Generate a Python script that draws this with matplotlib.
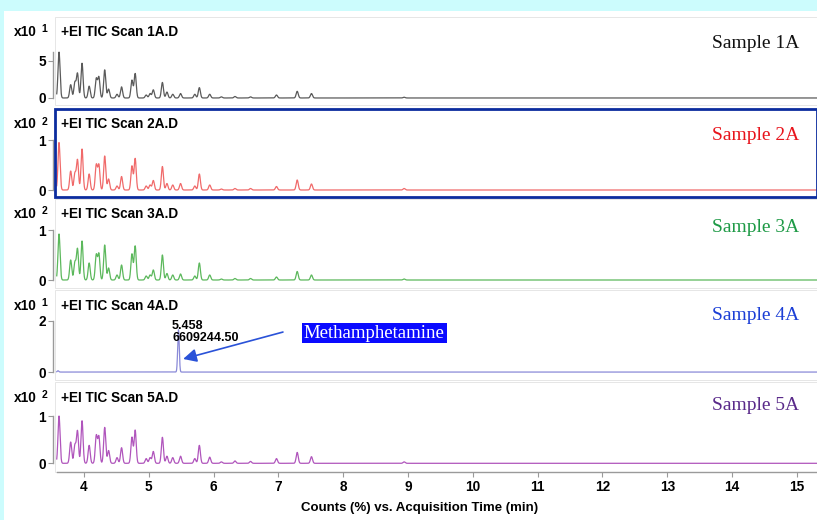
import numpy as np
import matplotlib.pyplot as plt
from matplotlib.patches import Rectangle

# peak apex retention times (min) shared by the TIC traces
rt = [3.615, 3.795, 3.86, 3.90, 3.97, 4.08, 4.19, 4.23, 4.32, 4.38, 4.51, 4.58,
      4.74, 4.79, 4.96, 5.02, 5.07, 5.21, 5.28, 5.37, 5.49, 5.71, 5.78, 5.94,
      6.12, 6.33, 6.57, 6.97, 7.29, 7.51, 8.94]

# peak heights, in the units of each panel (x10^1 or x10^2)
h_1A = [6.2, 1.8, 2.1, 3.3, 4.7, 1.6, 2.6, 2.8, 3.8, 1.2, 0.5, 1.5,
        2.4, 3.3, 0.4, 0.6, 1.1, 2.1, 0.8, 0.5, 0.6, 0.5, 1.4, 0.5,
        0.15, 0.2, 0.15, 0.4, 0.9, 0.6, 0.1]
h_2A = [0.95, 0.38, 0.33, 0.60, 0.82, 0.32, 0.50, 0.50, 0.68, 0.22, 0.08, 0.27,
        0.48, 0.63, 0.08, 0.10, 0.19, 0.47, 0.13, 0.10, 0.13, 0.08, 0.32, 0.10,
        0.02, 0.03, 0.03, 0.07, 0.20, 0.12, 0.03]
h_3A = [0.92, 0.40, 0.35, 0.62, 0.78, 0.34, 0.50, 0.52, 0.70, 0.24, 0.10, 0.30,
        0.52, 0.68, 0.08, 0.10, 0.20, 0.50, 0.13, 0.10, 0.12, 0.08, 0.34, 0.10,
        0.02, 0.03, 0.03, 0.06, 0.17, 0.10, 0.02]
h_5A = [1.00, 0.45, 0.38, 0.68, 0.90, 0.38, 0.58, 0.56, 0.76, 0.27, 0.12, 0.33,
        0.55, 0.70, 0.10, 0.12, 0.25, 0.55, 0.15, 0.12, 0.15, 0.10, 0.38, 0.13,
        0.03, 0.05, 0.04, 0.10, 0.23, 0.14, 0.03]
rt_4A = [3.60, 5.458]
h_4A = [0.05, 1.65]

samples = ["1A", "2A", "3A", "4A", "5A"]
exponents = [1, 2, 2, 1, 2]
yticks = [[0, 5], [0, 1], [0, 1], [0, 2], [0, 1]]
xticks = list(range(4, 16))

line_colors = ["#5a5a5a", "#f06a6a", "#5cb85c", "#8a8ad8", "#b055bc"]
label_colors = ["#111111", "#e8141c", "#1e9a46", "#1c3fd6", "#5a2a8a"]

W, H = 817, 520
# panel (top, bottom) in pixels and y-limits
panels = [(17, 105), (109, 197), (199, 288), (290, 380), (382, 472)]
ylims = [(-0.95, 10.95), (-0.14, 1.62), (-0.16, 1.62), (-0.31, 3.20), (-0.184, 1.72)]
label_y = [43, 135, 227, 315, 405]

t = np.linspace(3.58, 15.35, 8000)


def tic(times, heights, width=0.016):
    y = np.zeros_like(t)
    for c, h in zip(times, heights):
        y += h * np.exp(-0.5 * ((t - c) / width) ** 2)
    return y


traces = [tic(rt, h_1A), tic(rt, h_2A), tic(rt, h_3A), tic(rt_4A, h_4A, 0.012), tic(rt, h_5A)]

fig = plt.figure(figsize=(W / 100, H / 100), dpi=100)
fig.patch.set_facecolor("#ccfcfd")
fig.patches.append(Rectangle((4 / W, 0), 1, 1 - 11 / H, transform=fig.transFigure,
                             fc="white", ec="none", zorder=-5))

sans = "Liberation Sans"
serif = "Liberation Serif"

for i in range(5):
    top, bot = panels[i]
    ax = fig.add_axes([55 / W, 1 - bot / H, (W - 55) / W, (bot - top) / H])
    ax.set_zorder(2)
    ax.set_facecolor("white")
    ax.plot(t, traces[i], color=line_colors[i], lw=0.9)
    ax.set_xlim(3.553, 15.31)
    ax.set_ylim(*ylims[i])

    for s in ["top", "right", "bottom"]:
        ax.spines[s].set_visible(False)
    ax.spines["left"].set_color("#9a9a9a")
    ax.spines["left"].set_linewidth(1.0)
    ax.spines["left"].set_position(("outward", 1.5))
    ymax = max(yticks[i][-1], traces[i].max())
    ax.spines["left"].set_bounds(0, ymax)
    ax.set_yticks(yticks[i])
    ax.tick_params(axis="y", direction="out", length=3.5, width=0.8, color="#9a9a9a",
                   labelsize=9.8, pad=1.5)
    for lbl in ax.get_yticklabels():
        lbl.set_fontweight("bold")
        lbl.set_family(sans)

    if i == 1:
        frame = Rectangle((0, 0), 1, 1, transform=ax.transAxes, fill=False,
                          ec="#0b2c9e", lw=2.0, clip_on=False, zorder=5)
    else:
        frame = Rectangle((0, 0), 1, 1, transform=ax.transAxes, fill=False,
                          ec="#e6e6e6", lw=0.7, clip_on=False, zorder=1)
    ax.add_patch(frame)

    if i == 4:
        ax.spines["bottom"].set_visible(True)
        ax.spines["bottom"].set_color("#9a9a9a")
        ax.spines["bottom"].set_linewidth(1.0)
        ax.spines["bottom"].set_bounds(3.58, 15.31)
        ax.set_xticks(xticks)
        ax.tick_params(axis="x", direction="out", length=3.5, width=0.8, color="#9a9a9a",
                       labelsize=9.8, pad=2)
        for lbl in ax.get_xticklabels():
            lbl.set_fontweight("bold")
            lbl.set_family(sans)
    else:
        ax.set_xticks([])

    # header texts
    yh = 1 - (top + 15.5) / H
    fig.text(61 / W, yh, "+EI TIC Scan " + samples[i] + ".D", ha="left", va="center",
             fontsize=9.8, fontweight="bold", family=sans, zorder=10)
    fig.text(37 / W, yh, "x10", ha="right", va="center", fontsize=9.8,
             fontweight="bold", family=sans, zorder=10)
    fig.text(41.5 / W, yh + 3 / H, str(exponents[i]), ha="left", va="center",
             fontsize=7.5, fontweight="bold", family=sans, zorder=10)
    fig.text(799 / W, 1 - label_y[i] / H, "Sample " + samples[i], ha="right", va="center",
             fontsize=14, family=serif, color=label_colors[i], zorder=10)

    if i == 3:
        ax.text(5.36, 2.02, "5.458\n6609244.50", ha="left", va="top", fontsize=9,
                fontweight="bold", family=sans, linespacing=1.0)
        ax.annotate("", xy=(5.53, 0.51), xytext=(7.07, 1.56),
                    arrowprops=dict(arrowstyle="-|>", color="#2a52d8", lw=1.2,
                                    mutation_scale=20, shrinkA=0, shrinkB=0))
        ax.text(8.48, 1.52, "Methamphetamine", ha="center", va="center", fontsize=13.5,
                family=serif, color="white",
                bbox=dict(boxstyle="square,pad=0.1", fc="#0a0aff", ec="none"))

fig.text(420 / W, 1 - 508 / H, "Counts (%) vs. Acquisition Time (min)", ha="center",
         va="center", fontsize=9.5, fontweight="bold", family=sans)

fig.savefig("out.png", dpi=100, facecolor=fig.get_facecolor())
